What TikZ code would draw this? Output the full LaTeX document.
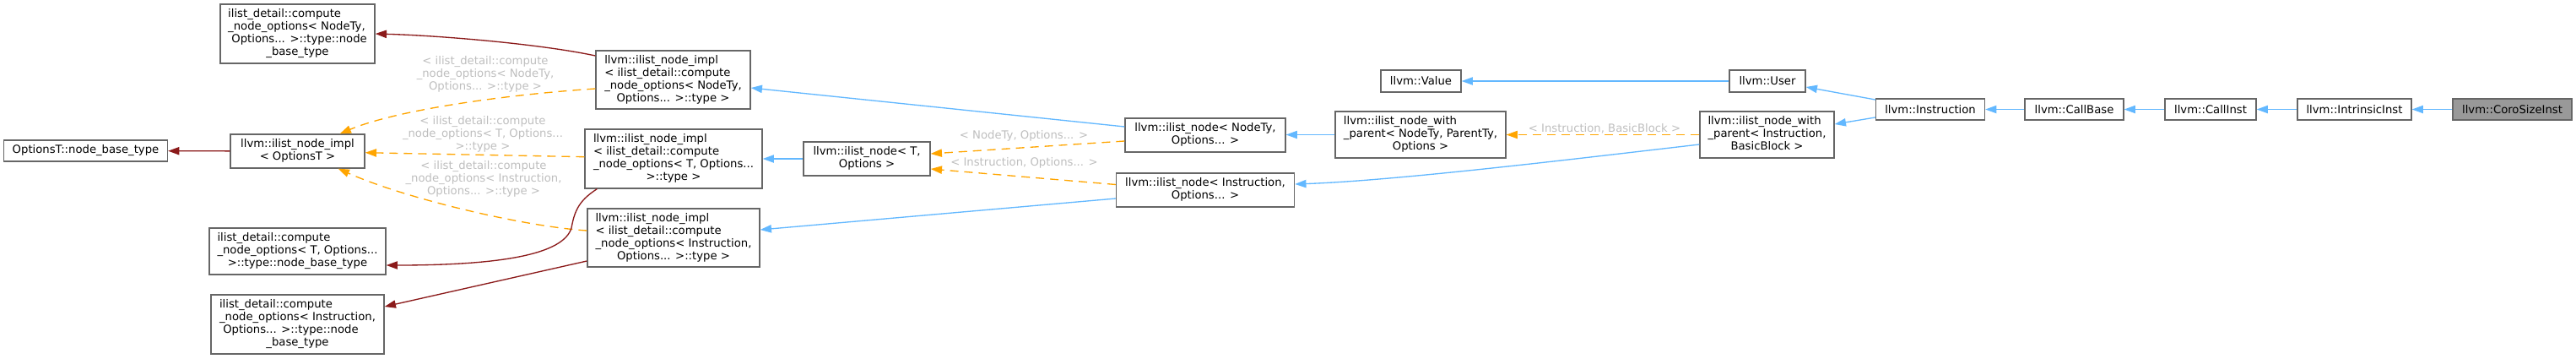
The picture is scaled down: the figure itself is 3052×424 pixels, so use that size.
\documentclass[tikz,border=0pt]{standalone}
\usepackage{fontspec}
\setmainfont{DejaVu Sans}
\usetikzlibrary{arrows.meta,calc}
\definecolor{nodeborder}{HTML}{666666}
\definecolor{edgeblue}{HTML}{63B8FF}
\definecolor{edgeorange}{HTML}{FFA500}
\definecolor{edgered}{HTML}{8B1A1A}
\definecolor{labelgray}{HTML}{BEBEBE}
\definecolor{corofill}{HTML}{999999}
\newcommand\tbx[1]{\begin{tabular}{@{}c@{}}#1\end{tabular}}
\newcommand\Lline[1]{\multicolumn{1}{@{}l@{}}{#1}}
\begin{document}
\begin{tikzpicture}[x=1pt,y=-1pt,
  cls/.style={draw=nodeborder, line width=1.33pt, fill=white, inner sep=0pt,
    font=\fontsize{13.2}{15}\selectfont, text=black},
  conn/.style={line width=1.33pt, -{Triangle[length=13.3pt,width=9.3pt]}},
  blueedge/.style={conn, draw=edgeblue},
  orangeedge/.style={conn, draw=edgeorange, dash pattern=on 10pt off 7pt},
  rededge/.style={conn, draw=edgered},
  elabel/.style={text=labelgray, inner sep=0pt, align=center,
    font=\fontsize{13.2}{15}\selectfont}]
\useasboundingbox (0,0) rectangle (3052,424);

% nodes
\node[cls, minimum width=183pt, minimum height=70pt] (cnoN) at (352.5,40)
  {\tbx{\Lline{ilist\_detail::compute}\\ \Lline{\_node\_options< NodeTy,}\\ \Lline{\ Options... >::type::node}\\ \_base\_type}};
\node[cls, minimum width=194pt, minimum height=25pt] (optbase) at (101.5,178.5) {OptionsT::node\_base\_type};
\node[cls, minimum width=159pt, minimum height=40pt] (implOpt) at (352.5,179)
  {\tbx{\Lline{llvm::ilist\_node\_impl}\\ < OptionsT >}};
\node[cls, minimum width=209pt, minimum height=55pt] (cnoT) at (352.5,297.5)
  {\tbx{\Lline{ilist\_detail::compute}\\ \Lline{\_node\_options< T, Options...}\\ >::type::node\_base\_type}};
\node[cls, minimum width=205pt, minimum height=70pt] (cnoI) at (352.5,384)
  {\tbx{\Lline{ilist\_detail::compute}\\ \Lline{\_node\_options< Instruction,}\\ \Lline{\ Options... >::type::node}\\ \_base\_type}};
\node[cls, minimum width=183pt, minimum height=69pt] (implN) at (797.5,94.5)
  {\tbx{\Lline{llvm::ilist\_node\_impl}\\ \Lline{< ilist\_detail::compute}\\ \Lline{\_node\_options< NodeTy,}\\ Options... >::type >}};
\node[cls, minimum width=210pt, minimum height=70pt] (implT) at (798,188)
  {\tbx{\Lline{llvm::ilist\_node\_impl}\\ \Lline{< ilist\_detail::compute}\\ \Lline{\_node\_options< T, Options...}\\ >::type >}};
\node[cls, minimum width=204pt, minimum height=69pt] (implI) at (798,281.5)
  {\tbx{\Lline{llvm::ilist\_node\_impl}\\ \Lline{< ilist\_detail::compute}\\ \Lline{\_node\_options< Instruction,}\\ Options... >::type >}};
\node[cls, minimum width=150pt, minimum height=40pt] (nodeT) at (1027,188)
  {\tbx{\Lline{llvm::ilist\_node< T,}\\ Options >}};
\node[cls, minimum width=190pt, minimum height=40pt] (nodeN) at (1428,160)
  {\tbx{\Lline{llvm::ilist\_node< NodeTy,}\\ Options... >}};
\node[cls, minimum width=211pt, minimum height=40pt] (nodeI) at (1428,225)
  {\tbx{\Lline{llvm::ilist\_node< Instruction,}\\ Options... >}};
\node[cls, minimum width=202pt, minimum height=55pt] (wpN) at (1683,159.5)
  {\tbx{\Lline{llvm::ilist\_node\_with}\\ \Lline{\_parent< NodeTy, ParentTy,}\\ Options >}};
\node[cls, minimum width=95pt, minimum height=26pt] (value) at (1683.5,96) {llvm::Value};
\node[cls, minimum width=90pt, minimum height=26pt] (user) at (2094,96) {llvm::User};
\node[cls, minimum width=159pt, minimum height=55pt] (wpI) at (2093.5,159.5)
  {\tbx{\Lline{llvm::ilist\_node\_with}\\ \Lline{\_parent< Instruction,}\\ BasicBlock >}};
\node[cls, minimum width=129pt, minimum height=25pt] (instr) at (2287,129.5) {llvm::Instruction};
\node[cls, minimum width=117pt, minimum height=25pt] (callbase) at (2457.5,129.5) {llvm::CallBase};
\node[cls, minimum width=108pt, minimum height=25pt] (callinst) at (2619,129.5) {llvm::CallInst};
\node[cls, minimum width=135pt, minimum height=25pt] (intr) at (2789.5,129.5) {llvm::IntrinsicInst};
\node[cls, fill=corofill, minimum width=141pt, minimum height=25pt] (coro) at (2976.5,129.5) {llvm::CoroSizeInst};

% edge labels
\node[elabel] (lIB) at (1901,152) {< Instruction, BasicBlock >};
\node[elabel] (lNO) at (1213,161) {< NodeTy, Options... >};
\node[elabel] (lIO) at (1213.5,193) {< Instruction, Options... >};
\node[elabel] (lcN) at (575,88) {< ilist\_detail::compute\\\_node\_options< NodeTy,\\Options... >::type >};
\node[elabel] (lcT) at (572,159) {< ilist\_detail::compute\\\_node\_options< T, Options...\\>::type >};
\node[elabel] (lcI) at (573,212) {< ilist\_detail::compute\\\_node\_options< Instruction,\\Options... >::type >};

\coordinate (bend) at (678,265);

% edges
\draw[blueedge] (coro) -- (intr);
\draw[blueedge] (intr) -- (callinst);
\draw[blueedge] (callinst) -- (callbase);
\draw[blueedge] (callbase) -- (instr);
\draw[blueedge] ($(instr.west)+(0,-11.5)$) -- ($(user.east)+(0,7)$);
\draw[blueedge] ($(instr.west)+(0,9.5)$) -- ($(wpI.east)+(0,-12.5)$);
\draw[blueedge] (user) -- (value);
\draw[orangeedge] (wpI) -- (wpN);
\draw[blueedge] ($(wpI.west)+(0,11.5)$) .. controls (1850,190) and (1650,214) .. ($(nodeI.east)+(0,-7)$);
\draw[blueedge] (wpN.west) -- (wpN.west -| nodeN.east);
\draw[blueedge] ($(nodeN.west)+(0,-10)$) -- ($(implN.east)+(0,9.5)$);
\draw[orangeedge] ($(nodeN.west)+(0,7)$) -- ($(nodeT.east)+(0,-6)$);
\draw[orangeedge] ($(nodeI.west)+(0,-6.5)$) -- ($(nodeT.east)+(0,12)$);
\draw[blueedge] ($(nodeI.west)+(0,10)$) -- ($(implI.east)+(0,-9.5)$);
\draw[blueedge] (nodeT) -- (implT);
\draw[orangeedge] ($(implN.west)+(0,10.5)$) .. controls (600,112) and (470,130) .. ($(implOpt.north east)+(-30,0)$);
\draw[orangeedge] ($(implT.west)+(0,-2.3)$) -- ($(implOpt.east)+(0,1.7)$);
\draw[orangeedge] ($(implI.west)+(0,-8.5)$) .. controls (620,268) and (480,235) .. ($(implOpt.south east)+(-32,0)$);
\draw[rededge] ($(implN.west)+(0,-28.5)$) .. controls (640,52) and (520,42) .. (cnoN.east);
\draw[rededge] ($(implT.south west)+(15,0)$) .. controls (690,235) and (682,245) .. (bend) .. controls (675,295) and (620,314) .. ($(cnoT.east)+(0,16.5)$);
\draw[rededge] ($(implI.west)+(0,27.5)$) -- ($(cnoI.east)+(0,-21)$);
\draw[rededge] (implOpt) -- (optbase);
\end{tikzpicture}
\end{document}
